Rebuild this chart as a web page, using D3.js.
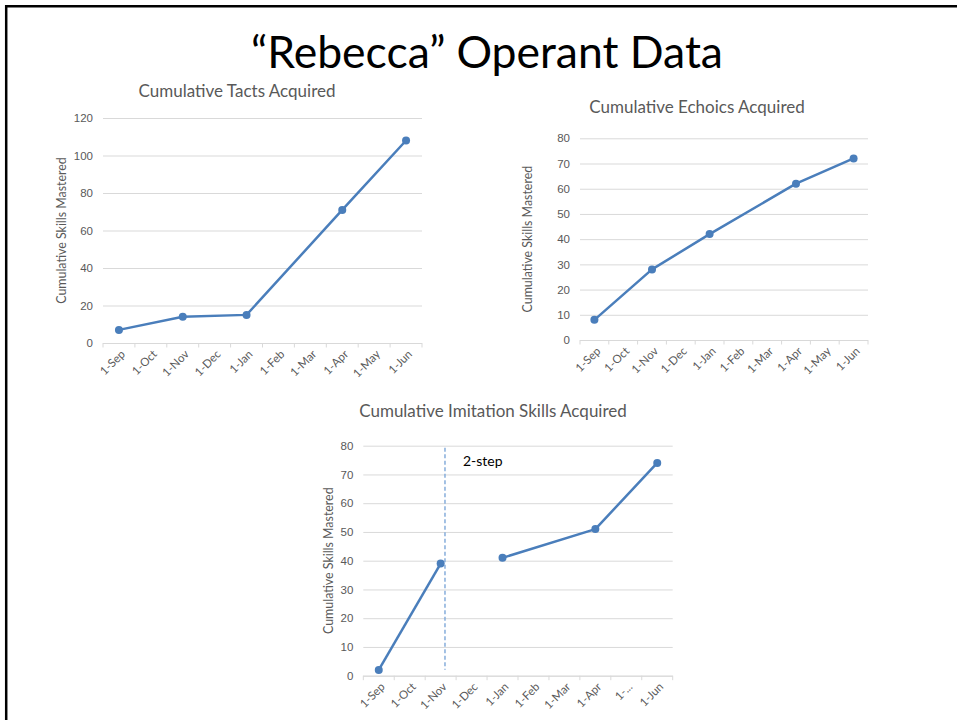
<!DOCTYPE html>
<head>
  <title>Rebecca Operant Data</title>
  <meta charset="UTF-8">
  <script src="https://d3js.org/d3.v7.min.js"></script>
  <style>
    body { margin: 0; background: #fff; }
    svg { display: block; font-family: Lato, "Open Sans", sans-serif; }
  </style>
</head>
<body>
<svg id="slide"></svg>
<script>

// data
const months = ["1-Sep", "1-Oct", "1-Nov", "1-Dec", "1-Jan", "1-Feb", "1-Mar", "1-Apr", "1-May", "1-Jun"];
const imitationMonths = ["1-Sep", "1-Oct", "1-Nov", "1-Dec", "1-Jan", "1-Feb", "1-Mar", "1-Apr", "1-...", "1-Jun"];
const tacts = [7, null, 14, null, 15, null, null, 71, null, 108];
const echoics = [8, null, 28, null, 42, null, null, 62, null, 72];
const imitationBefore = [2, null, 39, null, null, null, null, null, null, null];
const imitationAfter = [null, null, null, null, 41, null, null, 51, null, 74];
const phaseLabel = "2-step";
const phaseMonth = "1-Nov";

const width = 957, height = 720;
const blue = "#4a7ebb", grey = "#595959", grid = "#d9d9d9";

const svg = d3.select("#slide").attr("width", width).attr("height", height);

// slide frame (top + left edge only)
svg.append("path")
  .attr("d", "M6.2," + height + "V6.2H" + width)
  .attr("fill", "none").attr("stroke", "#000").attr("stroke-width", 2.5);

svg.append("text")
  .attr("x", 487).attr("y", 68)
  .attr("text-anchor", "middle")
  .attr("font-size", 44.5)
  .attr("fill", "#000")
  .text("\u201cRebecca\u201d Operant Data");

function drawChart(cfg) {
  const g = svg.append("g");
  const x = d3.scaleBand().domain(cfg.cats).range([cfg.left, cfg.right]);
  const y = d3.scaleLinear().domain([0, cfg.yMax]).range([cfg.bottom, cfg.top]);

  // gridlines + y labels
  const yAxis = g.append("g")
    .attr("transform", "translate(" + cfg.left + ",0)")
    .call(d3.axisLeft(y)
      .tickValues(d3.range(0, cfg.yMax + 1, cfg.yStep))
      .tickSize(-(cfg.right - cfg.left))
      .tickPadding(10));
  yAxis.select(".domain").remove();
  yAxis.selectAll("line").attr("stroke", grid);
  yAxis.selectAll("text").attr("fill", grey).attr("font-size", 11.5).attr("font-family", null);

  // x axis line + boundary ticks
  g.append("line")
    .attr("x1", cfg.left).attr("x2", cfg.right)
    .attr("y1", cfg.bottom + 0.5).attr("y2", cfg.bottom + 0.5)
    .attr("stroke", grid);
  g.selectAll(".bt").data(d3.range(cfg.cats.length + 1)).enter()
    .append("line")
    .attr("x1", i => cfg.left + i * x.bandwidth())
    .attr("x2", i => cfg.left + i * x.bandwidth())
    .attr("y1", cfg.bottom).attr("y2", cfg.bottom + 4.5)
    .attr("stroke", grid);

  // x labels
  g.selectAll(".xl").data(cfg.cats).enter()
    .append("text")
    .attr("transform", d => "translate(" + (x(d) + x.bandwidth() / 2 + 4) + "," + (cfg.bottom + 9) + ") rotate(-45)")
    .attr("text-anchor", "end")
    .attr("dy", "0.35em")
    .attr("font-size", 11.5)
    .attr("fill", grey)
    .text(d => d);

  // titles
  g.append("text")
    .attr("x", cfg.titleX).attr("y", cfg.titleY)
    .attr("text-anchor", "middle")
    .attr("font-size", 17)
    .attr("fill", grey)
    .text(cfg.title);
  g.append("text")
    .attr("transform", "translate(" + cfg.labelX + "," + ((cfg.top + cfg.bottom) / 2) + ") rotate(-90)")
    .attr("text-anchor", "middle")
    .attr("dy", "0.35em")
    .attr("font-size", 12.4)
    .attr("fill", grey)
    .text("Cumulative Skills Mastered");

  if (cfg.phase) {
    const px = x(cfg.phase) + x.bandwidth() * 0.64;
    g.append("line")
      .attr("x1", px).attr("x2", px)
      .attr("y1", cfg.top + 2).attr("y2", cfg.bottom - 6)
      .attr("stroke", "#86addb").attr("stroke-width", 1.5)
      .attr("stroke-dasharray", "4,2.5");
    g.append("text")
      .attr("x", px + 18).attr("y", cfg.top + 20)
      .attr("font-size", 14)
      .attr("fill", "#000")
      .text(cfg.phaseText);
  }

  const line = d3.line()
    .x(d => x(d.cat) + x.bandwidth() / 2)
    .y(d => y(d.v));

  cfg.series.forEach(vals => {
    const pts = vals.map((v, i) => ({ cat: cfg.cats[i], v: v })).filter(d => d.v !== null);
    g.append("path")
      .datum(pts)
      .attr("d", line)
      .attr("fill", "none")
      .attr("stroke", blue)
      .attr("stroke-width", 2.5)
      .attr("stroke-linejoin", "round");
    g.selectAll(null).data(pts).enter()
      .append("circle")
      .attr("cx", d => x(d.cat) + x.bandwidth() / 2)
      .attr("cy", d => y(d.v))
      .attr("r", 4)
      .attr("fill", blue);
  });
}

drawChart({
  title: "Cumulative Tacts Acquired", titleX: 237, titleY: 97,
  cats: months, series: [tacts],
  left: 103, right: 422, top: 118, bottom: 343,
  yMax: 120, yStep: 20, labelX: 62
});

drawChart({
  title: "Cumulative Echoics Acquired", titleX: 697, titleY: 113,
  cats: months, series: [echoics],
  left: 580, right: 868, top: 138.3, bottom: 340,
  yMax: 80, yStep: 10, labelX: 528
});

drawChart({
  title: "Cumulative Imitation Skills Acquired", titleX: 493, titleY: 417,
  cats: imitationMonths, series: [imitationBefore, imitationAfter],
  left: 363.3, right: 672.7, top: 445.7, bottom: 675.7,
  yMax: 80, yStep: 10, labelX: 329,
  phase: phaseMonth, phaseText: phaseLabel
});

</script>
</body>
